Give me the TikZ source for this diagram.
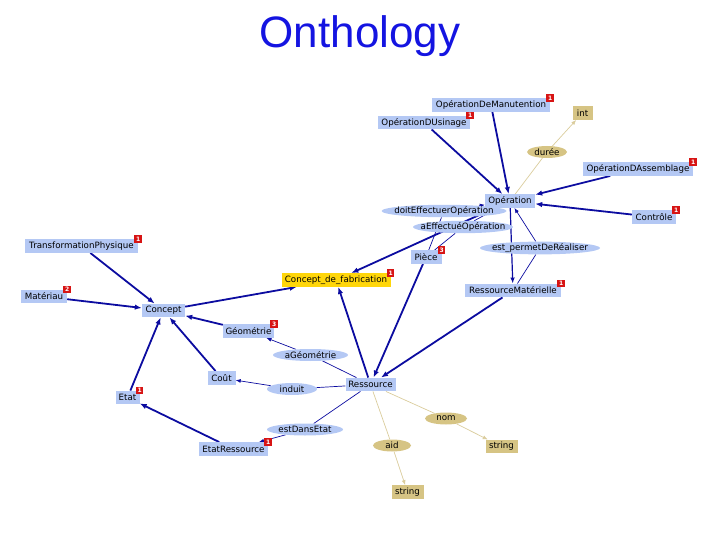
\documentclass[tikz,border=0pt]{standalone}
\usepackage{fontspec}
\setmainfont{DejaVu Sans}
\newfontfamily\titlefont{Liberation Sans}
\usetikzlibrary{shapes.geometric,arrows.meta,backgrounds}
\definecolor{cbox}{RGB}{180,200,244}
\definecolor{cell}{RGB}{180,200,244}
\definecolor{tanc}{RGB}{214,196,132}
\definecolor{yel}{RGB}{255,214,10}
\definecolor{eblue}{RGB}{12,12,160}
\definecolor{tline}{RGB}{218,204,156}
\definecolor{titleblue}{RGB}{20,20,225}
\definecolor{badgered}{RGB}{215,20,20}
\newcommand{\ztxt}[1]{\makebox[0pt][c]{#1}}
\tikzset{
  lbl/.style={font=\fontsize{8.7}{9}\selectfont},
  cls/.style={rectangle, fill=cbox, inner sep=0pt, minimum width=#1, minimum height=13.5pt, lbl},
  ycls/.style={cls=#1, fill=yel},
  dtype/.style={cls=#1, fill=tanc},
  prop/.style={ellipse, fill=cell, inner sep=0pt, minimum width=#1, minimum height=12pt, lbl},
  dprop/.style={prop=#1, fill=tanc},
  badge/.style={rectangle, fill=badgered, text=white, inner sep=0pt, minimum size=7.5pt, font=\fontsize{6}{6}\selectfont\bfseries},
  isa/.style={draw=eblue, line width=1.8pt, -{Latex[length=7pt,width=5.5pt]}},
  mid/.style={draw=eblue, line width=1.2pt, -{Latex[length=6pt,width=4.5pt]}},
  pl/.style={draw=eblue, line width=0.7pt},
  pa/.style={pl, -{Latex[length=5pt,width=4pt]}},
  tl/.style={draw=tline, line width=0.7pt},
  ta/.style={tl, -{Latex[length=5pt,width=4pt]}}
}
\begin{document}
\begin{tikzpicture}[x=1pt,y=-1pt]
\useasboundingbox (0,0) rectangle (720,540);
% title
\node[anchor=base, text=titleblue, font=\titlefont\fontsize{44}{46}\selectfont] (title) at (360,48) {Onthology};
% classes
\node[cls=118pt] (manut) at (491,105) {\ztxt{OpérationDeManutention}};
\node[cls=92pt] (usin) at (424,122.5) {\ztxt{OpérationDUsinage}};
\node[dtype=20pt] (int) at (582.5,113) {\ztxt{int}};
\node[cls=110pt] (assem) at (638,169) {\ztxt{OpérationDAssemblage}};
\node[cls=50pt] (oper) at (510,201) {\ztxt{Opération}};
\node[cls=44pt] (ctrl) at (654,217) {\ztxt{Contrôle}};
\node[cls=31pt] (piece) at (426,257) {\ztxt{Pièce}};
\node[cls=96pt] (ressmat) at (513,290.5) {\ztxt{RessourceMatérielle}};
\node[cls=113pt] (transfo) at (81.5,246) {\ztxt{TransformationPhysique}};
\node[ycls=109pt] (cfab) at (336,280) {\ztxt{Concept\_de\_fabrication}};
\node[cls=46pt] (mater) at (44,296.5) {\ztxt{Matériau}};
\node[cls=43pt] (concept) at (163.5,310.5) {\ztxt{Concept}};
\node[cls=51pt] (geom) at (248.5,331) {\ztxt{Géométrie}};
\node[cls=28pt] (cout) at (221.5,378) {\ztxt{Coût}};
\node[cls=50pt] (ress) at (370.5,384.5) {\ztxt{Ressource}};
\node[cls=24pt] (etat) at (127.5,397.5) {\ztxt{Etat}};
\node[cls=69pt] (etatress) at (233.5,449) {\ztxt{EtatRessource}};
\node[dtype=32pt] (str1) at (501.5,446.5) {\ztxt{string}};
\node[dtype=32pt] (str2) at (407.5,492) {\ztxt{string}};
% properties
\node[dprop=40pt] (duree) at (547,152) {\ztxt{durée}};
\node[prop=125pt] (doit) at (444,211) {\ztxt{doitEffectuerOpération}};
\node[prop=100pt] (aeff) at (463,227) {\ztxt{aEffectuéOpération}};
\node[prop=120pt] (perm) at (540,248) {\ztxt{est\_permetDeRéaliser}};
\node[prop=75pt] (ageom) at (310.5,355) {\ztxt{aGéométrie}};
\node[prop=50pt] (induit) at (292,389) {\ztxt{induit}};
\node[prop=76pt] (estdans) at (305,429.5) {\ztxt{estDansEtat}};
\node[dprop=42pt] (nom) at (446,418.5) {\ztxt{nom}};
\node[dprop=38pt] (aid) at (392,445.5) {\ztxt{aid}};
% badges
\node[badge] (bmanut) at (manut.north east) {1};
\node[badge] (busin) at (usin.north east) {1};
\node[badge] (bassem) at (assem.north east) {1};
\node[badge] (bctrl) at (ctrl.north east) {1};
\node[badge] (bpiece) at (piece.north east) {3};
\node[badge] (bressmat) at (ressmat.north east) {1};
\node[badge] (btransfo) at (transfo.north east) {1};
\node[badge] (bcfab) at (cfab.north east) {1};
\node[badge] (bmater) at (mater.north east) {2};
\node[badge] (bgeom) at (geom.north east) {3};
\node[badge] (betat) at (etat.north east) {1};
\node[badge] (betatress) at (etatress.north east) {1};
% connectors
\begin{pgfonlayer}{background}
\draw[isa] (manut) -- (oper);
\draw[isa] (usin) -- (oper);
\draw[isa] (assem) -- (oper);
\draw[isa] (ctrl) -- (oper);
\draw[isa] (oper) -- (cfab);
\draw[mid] (oper) -- (ressmat);
\draw[isa] (piece) -- (ress);
\draw[isa] (ressmat) -- (ress);
\draw[isa] (ress) -- (cfab);
\draw[isa] (concept) -- (cfab);
\draw[isa] (transfo) -- (concept);
\draw[isa] (mater) -- (concept);
\draw[isa] (geom) -- (concept);
\draw[isa] (cout) -- (concept);
\draw[isa] (etat) -- (concept);
\draw[isa] (etatress) -- (etat);
\draw[pl] (piece) -- (doit); \draw[pa] (doit) -- (oper);
\draw[pl] (piece) -- (aeff); \draw[pa] (aeff) -- (oper);
\draw[pl] (ressmat) -- (perm); \draw[pa] (perm) -- (oper);
\draw[pl] (ress) -- (ageom); \draw[pa] (ageom) -- (geom);
\draw[pl] (ress) -- (induit); \draw[pa] (induit) -- (cout);
\draw[pl] (ress) -- (estdans); \draw[pa] (estdans) -- (etatress);
\draw[tl] (ress) -- (nom); \draw[ta] (nom) -- (str1);
\draw[tl] (ress) -- (aid); \draw[ta] (aid) -- (str2);
\draw[tl] (oper) -- (duree); \draw[ta] (duree) -- (int);
\end{pgfonlayer}
\end{tikzpicture}
\end{document}
